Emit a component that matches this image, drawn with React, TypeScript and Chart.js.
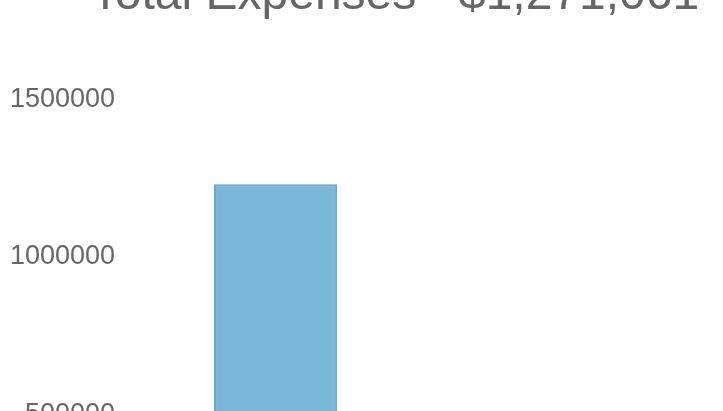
import React, { useEffect, useRef } from "react";
import { Chart, registerables } from "chart.js";

Chart.register(...registerables);

const titleText = "Total Expenses - $1,271,061";
const categories = ["Expenses A", "Expenses B"];
const expenseValues = [1231000, 40061];
const yTicks = [0, 500000, 1000000, 1500000];

const FONT = "'Liberation Sans', Arial, sans-serif";

export default function App() {
  const ref = useRef<HTMLCanvasElement | null>(null);

  useEffect(() => {
    if (!ref.current) return;
    const chart = new Chart(ref.current, {
      type: "bar",
      data: {
        labels: categories,
        datasets: [
          {
            label: "Expenses",
            data: expenseValues,
            backgroundColor: "rgb(122,183,216)",
            borderColor: "rgb(104,166,204)",
            borderWidth: 2,
            categoryPercentage: 0.8,
            barPercentage: 0.54,
          },
        ],
      },
      options: {
        responsive: false,
        animation: false,
        layout: { padding: { left: 0, right: 0, bottom: 3, top: 0 } },
        plugins: {
          legend: { display: false },
          tooltip: { enabled: false },
          title: {
            display: true,
            text: titleText,
            color: "#666",
            font: { family: FONT, size: 48, weight: "normal", lineHeight: 1.2 },
            padding: { top: 7, bottom: 75 },
          },
        },
        scales: {
          x: { display: false },
          y: {
            min: 0,
            max: 1500000,
            afterBuildTicks: (axis: any) => {
              axis.ticks = yTicks.map((v) => ({ value: v }));
            },
            grid: { display: false },
            border: { display: false },
            ticks: {
              color: "#666",
              padding: 10,
              font: { family: FONT, size: 27 },
              callback: (v: any) => String(v),
            },
          },
          yRight: {
            position: "right",
            display: true,
            grid: { display: false, drawTicks: false },
            border: { display: false },
            ticks: { display: false },
            afterFit: (axis: any) => {
              axis.width = 87;
            },
          },
        },
      },
    });
    return () => chart.destroy();
  }, []);

  return (
    <div style={{ position: "fixed", inset: 0, overflow: "hidden", background: "#fff" }}>
      <div style={{ position: "absolute", left: 0, top: -40, width: 790, height: 638 }}>
        <canvas ref={ref} width={790} height={638} style={{ display: "block" }} />
      </div>
    </div>
  );
}
